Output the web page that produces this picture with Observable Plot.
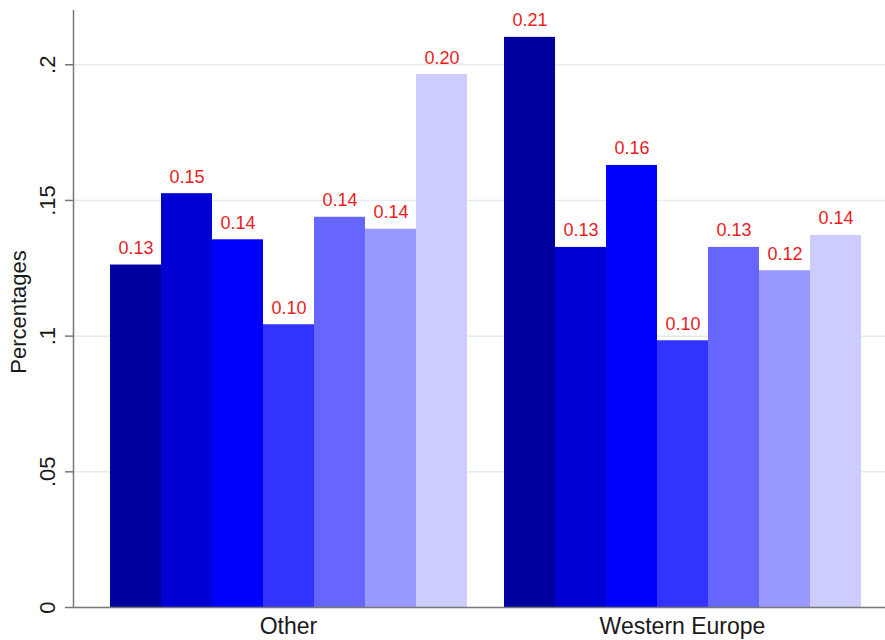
<!DOCTYPE html>
<html>
<head>
<meta charset="utf-8">
<script src="https://cdn.jsdelivr.net/npm/d3@7"></script>
<script src="https://cdn.jsdelivr.net/npm/@observablehq/plot@0.6"></script>
<style>
  html, body { margin: 0; padding: 0; background: #fff; }
  #chart { position: relative; width: 885px; height: 640px; }
  #chart svg { display: block; position: absolute; left: 0; top: 0; }
</style>
</head>
<body>
<div id="chart"></div>
<script>
// ---- data ----
const groups = ["Other", "Western Europe"];
const series = ["s1", "s2", "s3", "s4", "s5", "s6", "s7"];
const otherValues = [0.1262, 0.1525, 0.1355, 0.1042, 0.1438, 0.1394, 0.1964];
const westernEuropeValues = [0.2101, 0.1327, 0.1629, 0.0983, 0.1327, 0.1241, 0.1371];
const seriesColors = ["#00009e", "#0000d2", "#0000ff", "#3333ff", "#6666ff", "#9999ff", "#ccccff"];
const yTicks = [0, 0.05, 0.1, 0.15, 0.2];
const yTickLabels = ["0", ".05", ".1", ".15", ".2"];
const yTitle = "Percentages";

const data = [];
[otherValues, westernEuropeValues].forEach((vals, gi) => {
  vals.forEach((v, i) => data.push({group: groups[gi], series: series[i], value: v}));
});
const fmt = d3.format(".2f");

const common = {
  width: 885,
  height: 640,
  marginLeft: 73,
  marginRight: 0,
  marginTop: 10,
  marginBottom: 33,
  y: {domain: [0, 0.22], axis: null}
};
const font = "'Liberation Sans', Arial, sans-serif";

// background layer: grid and y axis
const back = Plot.plot({
  ...common,
  style: {fontFamily: font, background: "#fff", color: "#222"},
  x: {domain: [0, 1], axis: null},
  marks: [
    Plot.gridY(yTicks.slice(1), {stroke: "#e6ecf2", strokeOpacity: 1, strokeWidth: 1.5}),
    Plot.axisY(yTicks, {tickFormat: () => "", tickSize: 8, stroke: "#777", strokeWidth: 1.5, label: null}),
    Plot.text(yTicks, {
      y: d => d,
      text: (d, i) => yTickLabels[i],
      frameAnchor: "left",
      textAnchor: "middle",
      lineAnchor: "middle",
      rotate: -90,
      dx: -26,
      fontSize: 22,
      fill: "#1a1a1a"
    }),
    Plot.text([yTitle], {frameAnchor: "left", textAnchor: "middle", lineAnchor: "middle", rotate: -90, dx: -55, dy: 3, fontSize: 22, fill: "#1a1a1a"})
  ]
});

// foreground layer: bars, value labels, group labels
const front = Plot.plot({
  ...common,
  style: {fontFamily: font, background: "transparent", color: "#1a1a1a"},
  fx: {domain: groups, range: [108, 862], paddingInner: 34 / 394, paddingOuter: 0, label: null, axis: null},
  x: {domain: series, padding: 0, axis: null},
  color: {domain: series, range: seriesColors},
  marks: [
    Plot.barY(data, {fx: "group", x: "series", y: "value", fill: "series"}),
    Plot.text(data, {fx: "group", x: "series", y: "value", text: d => fmt(d.value), dy: -11, lineAnchor: "bottom", fill: "#ea1c24", fontSize: 18}),
    Plot.axisFx({anchor: "bottom", tickSize: 0, tickPadding: 10, fontSize: 23, label: null})
  ]
});

// axis lines on top
const lines = Plot.plot({
  ...common,
  style: {fontFamily: font, background: "transparent"},
  x: {domain: [0, 1], axis: null},
  marks: [
    Plot.ruleX([0], {stroke: "#777", strokeWidth: 1.5}),
    Plot.ruleY([0], {stroke: "#777", strokeWidth: 1.5})
  ]
});

const el = document.getElementById("chart");
el.appendChild(back);
el.appendChild(front);
el.appendChild(lines);
</script>
</body>
</html>
